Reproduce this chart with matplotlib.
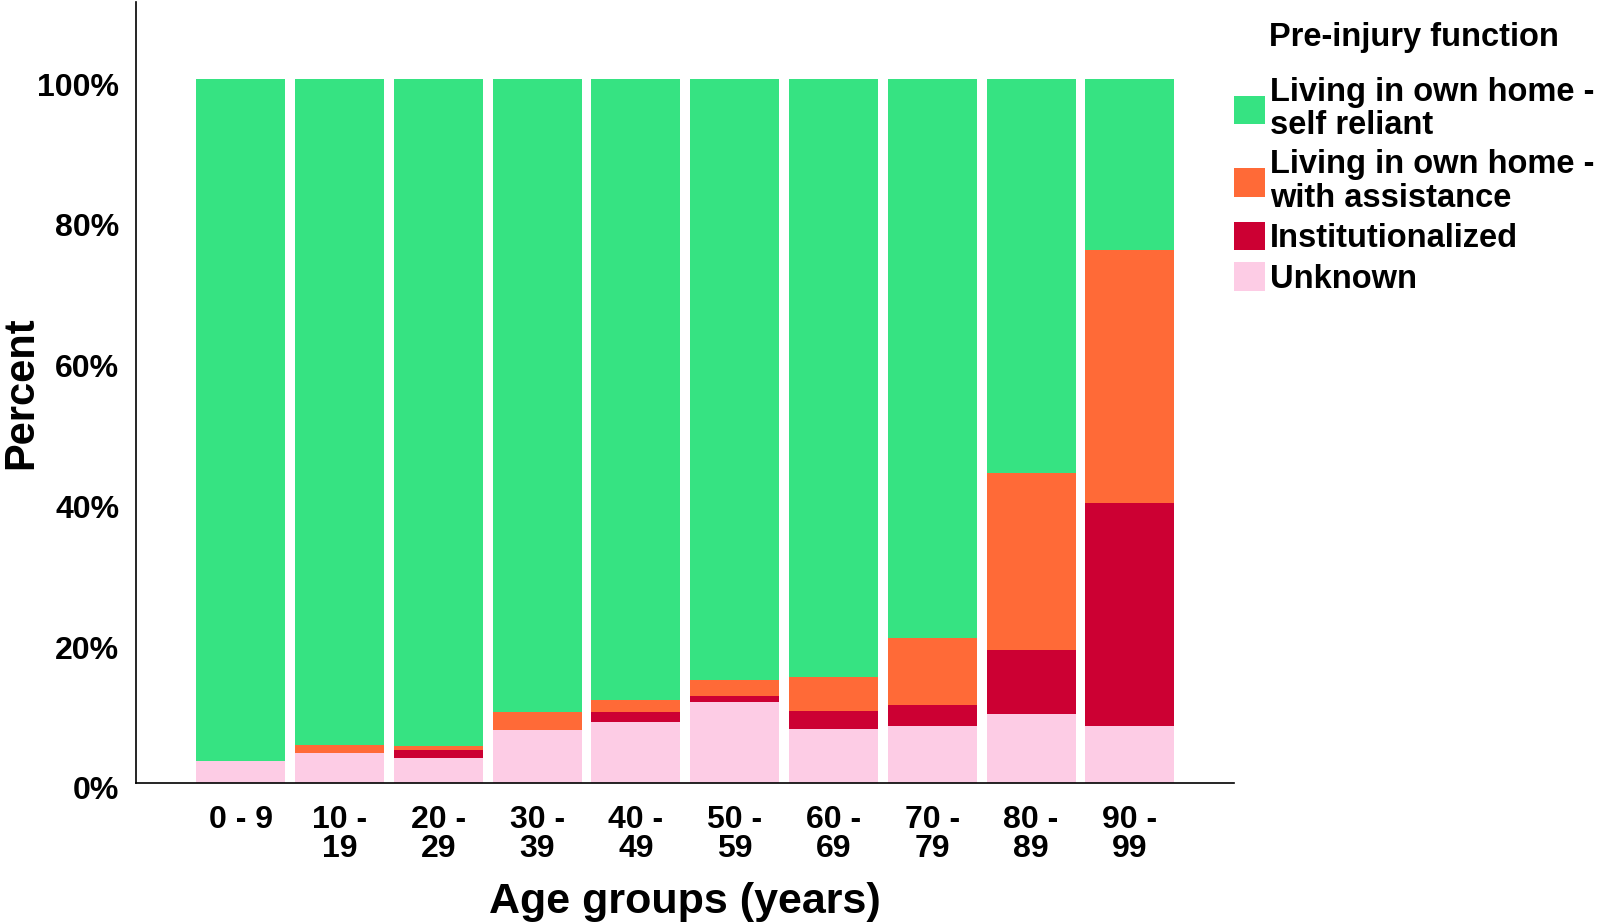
import matplotlib
matplotlib.use("Agg")
import matplotlib.pyplot as plt
import matplotlib.transforms as mtransforms
import numpy as np

plt.rcParams['font.family'] = ['Liberation Sans', 'DejaVu Sans']
plt.rcParams['font.weight'] = 'bold'

# age groups and percentages per pre-injury function
age_groups = ['0 - 9', '10 -\n19', '20 -\n29', '30 -\n39', '40 -\n49',
              '50 -\n59', '60 -\n69', '70 -\n79', '80 -\n89', '90 -\n99']
unknown = [3.1, 4.3, 3.5, 7.5, 8.6, 11.5, 7.7, 8.1, 9.8, 8.0]
institutionalized = [0.0, 0.0, 1.2, 0.0, 1.4, 0.9, 2.5, 2.9, 9.1, 31.7]
with_assistance = [0.0, 1.1, 0.5, 2.5, 1.8, 2.2, 4.9, 9.6, 25.2, 36.0]
self_reliant = [96.9, 94.6, 94.8, 90.0, 88.2, 85.4, 84.9, 79.4, 55.9, 24.3]

series = [
    ('Living in own home -\nself reliant', self_reliant, '#36E382'),
    ('Living in own home -\nwith assistance', with_assistance, '#FF6A37'),
    ('Institutionalized', institutionalized, '#CC0033'),
    ('Unknown', unknown, '#FDCCE5'),
]

fig = plt.figure(figsize=(16, 9.22), dpi=100)
ax = fig.add_axes([0.085, 0.151, 0.686, 0.847])

x = np.arange(len(age_groups))
# stack from bottom: unknown, institutionalized, assistance, self reliant
stack_order = [series[3], series[2], series[1], series[0]]
bottom = np.zeros(len(age_groups))
handles = {}
for name, vals, col in stack_order:
    vals = np.array(vals)
    b = ax.bar(x, vals, width=0.9, bottom=bottom, color=col, label=name)
    handles[name] = b
    bottom += vals

ax.set_xlim(-1.06, 10.05)
ax.set_ylim(0, 111)
ax.set_yticks([0, 20, 40, 60, 80, 100])
ax.set_yticklabels(['0%', '20%', '40%', '60%', '80%', '100%'])
ax.set_xticks(x)
ax.set_xticklabels(age_groups, linespacing=0.95)
ax.tick_params(axis='both', length=0, labelsize=23)
ax.tick_params(axis='x', pad=16)
ax.tick_params(axis='y', pad=12)
shift = mtransforms.ScaledTranslation(0, -5 / 100, fig.dpi_scale_trans)
for lbl in ax.get_yticklabels():
    lbl.set_transform(lbl.get_transform() + shift)
for lbl in ax.get_xticklabels() + ax.get_yticklabels():
    lbl.set_fontweight('bold')

ax.spines['top'].set_visible(False)
ax.spines['right'].set_visible(False)
ax.spines['left'].set_linewidth(1.2)
ax.spines['bottom'].set_linewidth(1.2)

ax.set_xlabel('Age groups (years)', fontsize=31, fontweight='bold', labelpad=13)
ax.set_ylabel('Percent', fontsize=30, fontweight='bold')
ax.yaxis.set_label_coords(-0.086, 0.5)

leg = fig.legend([handles[s[0]] for s in series], [s[0] for s in series],
                 loc='upper left', bbox_to_anchor=(0.763, 0.99),
                 title='Pre-injury function', frameon=False,
                 fontsize=23.5, title_fontsize=23.5,
                 handlelength=0.95, handleheight=0.95, handletextpad=0.15,
                 labelspacing=0.25, borderaxespad=0)
leg.get_title().set_fontweight('bold')
leg._legend_box.sep = 17
for t in leg.get_texts():
    t.set_linespacing(1.1)
    t.set_fontweight('bold')

fig.savefig('out.png', dpi=100)
